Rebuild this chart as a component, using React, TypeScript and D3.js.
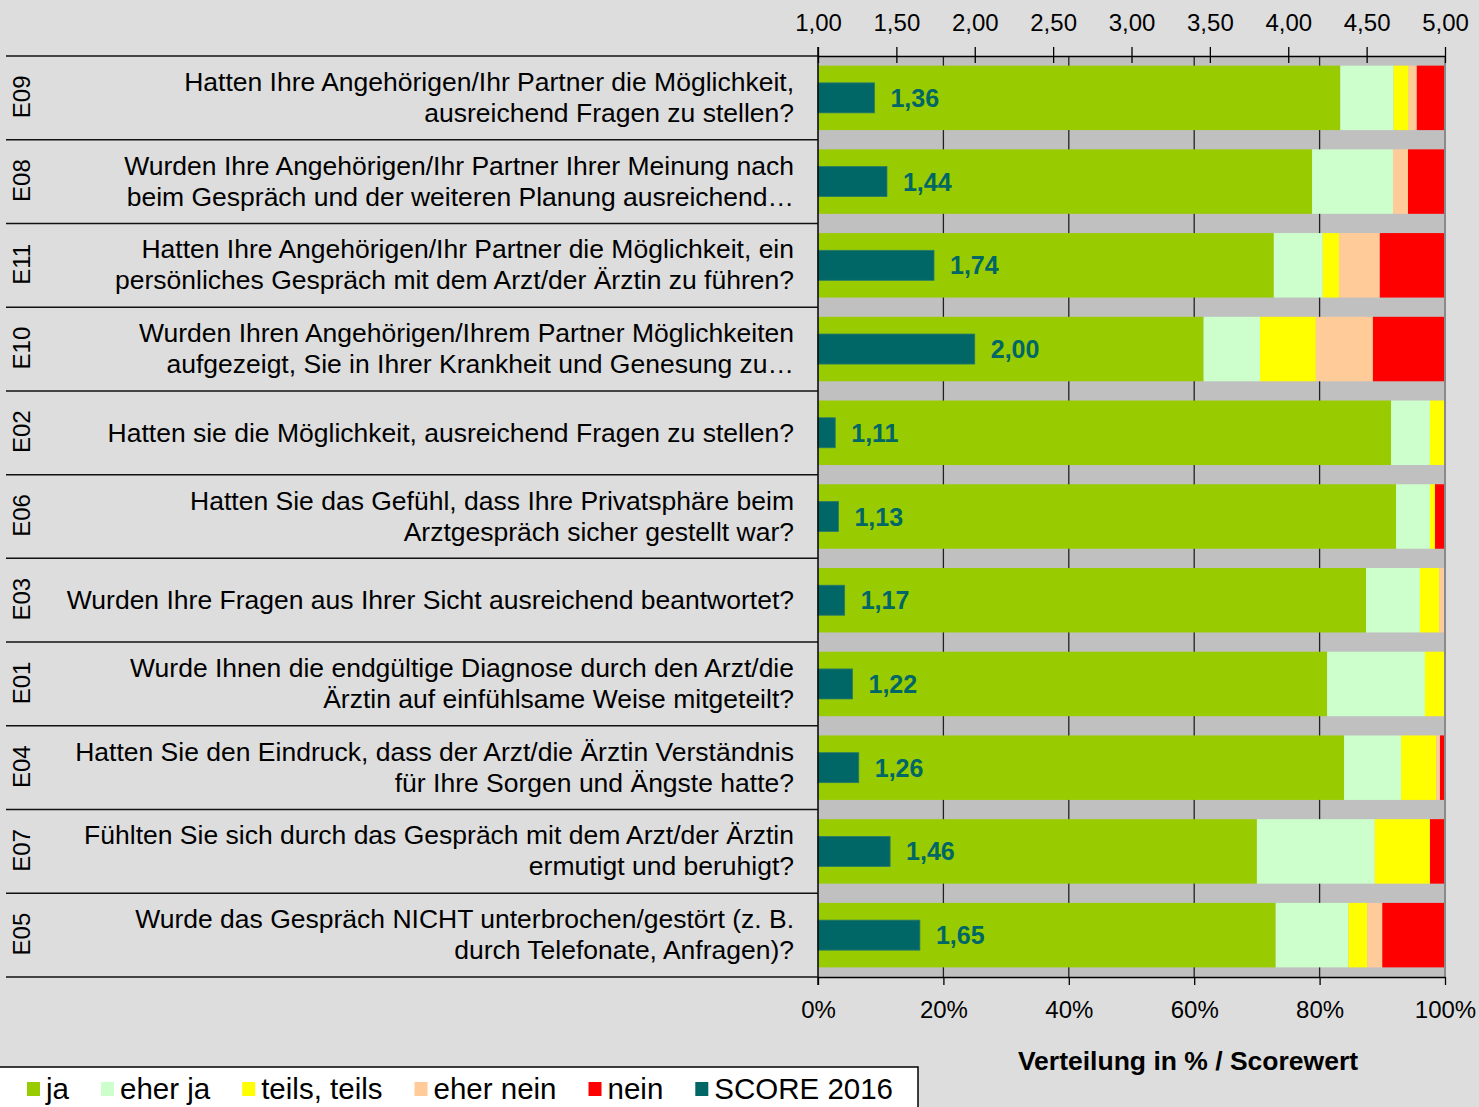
import { useEffect, useRef } from "react";
import * as d3 from "d3";

const codes = ["E09", "E08", "E11", "E10", "E02", "E06", "E03", "E01", "E04", "E07", "E05"];

const questions = [
  ["Hatten Ihre Angehörigen/Ihr Partner die Möglichkeit,", "ausreichend Fragen zu stellen?"],
  ["Wurden Ihre Angehörigen/Ihr Partner Ihrer Meinung nach", "beim Gespräch und der weiteren Planung ausreichend…"],
  ["Hatten Ihre Angehörigen/Ihr Partner die Möglichkeit, ein", "persönliches Gespräch mit dem Arzt/der Ärztin zu führen?"],
  ["Wurden Ihren Angehörigen/Ihrem Partner Möglichkeiten", "aufgezeigt, Sie in Ihrer Krankheit und Genesung zu…"],
  ["Hatten sie die Möglichkeit, ausreichend Fragen zu stellen?"],
  ["Hatten Sie das Gefühl, dass Ihre Privatsphäre beim", "Arztgespräch sicher gestellt war?"],
  ["Wurden Ihre Fragen aus Ihrer Sicht ausreichend beantwortet?"],
  ["Wurde Ihnen die endgültige Diagnose durch den Arzt/die", "Ärztin auf einfühlsame Weise mitgeteilt?"],
  ["Hatten Sie den Eindruck, dass der Arzt/die Ärztin Verständnis", "für Ihre Sorgen und Ängste hatte?"],
  ["Fühlten Sie sich durch das Gespräch mit dem Arzt/der Ärztin", "ermutigt und beruhigt?"],
  ["Wurde das Gespräch NICHT unterbrochen/gestört (z. B.", "durch Telefonate, Anfragen)?"],
];

// answer shares in %
const ja = [83.3, 78.8, 72.7, 61.5, 91.4, 92.2, 87.4, 81.2, 83.9, 70.0, 73.0];
const eherJa = [8.5, 12.9, 7.8, 9.0, 6.2, 5.4, 8.6, 15.6, 9.1, 18.8, 11.6];
const teils = [2.4, 0, 2.6, 8.9, 2.4, 0.8, 3.1, 3.2, 5.6, 8.8, 3.0];
const eherNein = [1.3, 2.4, 6.5, 9.1, 0, 0, 0.9, 0, 0.6, 0, 2.4];
const nein = [4.5, 5.9, 10.4, 11.5, 0, 1.6, 0, 0, 0.8, 2.4, 10.0];

const scores = [1.36, 1.44, 1.74, 2.0, 1.11, 1.13, 1.17, 1.22, 1.26, 1.46, 1.65];

const seriesNames = ["ja", "eher ja", "teils, teils", "eher nein", "nein"];
const seriesColors = ["#99CC00", "#CCFFCC", "#FFFF00", "#FFCC99", "#FF0000"];
const scoreName = "SCORE 2016";
const scoreColor = "#006666";

const scoreTicks = [1, 1.5, 2, 2.5, 3, 3.5, 4, 4.5, 5];
const pctTicks = [0, 20, 40, 60, 80, 100];

const FONT = "'Liberation Sans', Arial, sans-serif";

export default function App() {
  const svgRef = useRef(null);

  useEffect(() => {
    const width = 1479;
    const height = 1107;
    const left = 818;
    const right = 1445;
    const top = 56;
    const bottom = 977;

    const svg = d3.select(svgRef.current);
    svg.selectAll("*").remove();
    svg.attr("width", width).attr("height", height);

    svg.append("rect").attr("width", width).attr("height", height).attr("fill", "#DDDDDD");

    const xPct = d3.scaleLinear().domain([0, 100]).range([left, right]);
    const xScore = d3.scaleLinear().domain([1, 5]).range([left, right]);
    const y = d3.scaleBand<string>()
      .domain(codes)
      .range([top, bottom])
      .paddingInner(0.23)
      .paddingOuter(0.115);
    const step = y.step();

    // plot background
    svg.append("rect")
      .attr("x", left).attr("y", top)
      .attr("width", right - left).attr("height", bottom - top)
      .attr("fill", "#C0C0C0");

    // gridlines
    svg.append("g")
      .selectAll("line")
      .data(pctTicks.slice(1, -1))
      .join("line")
      .attr("x1", d => xPct(d)).attr("x2", d => xPct(d))
      .attr("y1", top).attr("y2", bottom)
      .attr("stroke", "#222").attr("stroke-width", 1.3);

    // stacked bars
    const table = codes.map((c, i) => ({
      code: c,
      v: [ja[i], eherJa[i], teils[i], eherNein[i], nein[i]],
    }));
    const rows = svg.append("g")
      .selectAll("g")
      .data(table)
      .join("g");
    rows.each(function (d) {
      let acc = 0;
      const segs = d.v.map((v, k) => {
        const s = { x0: acc, x1: acc + v, k };
        acc += v;
        return s;
      });
      d3.select(this)
        .selectAll("rect")
        .data(segs.filter(s => s.x1 > s.x0))
        .join("rect")
        .attr("x", s => xPct(s.x0))
        .attr("width", s => xPct(s.x1) - xPct(s.x0))
        .attr("y", y(d.code)!)
        .attr("height", y.bandwidth())
        .attr("fill", s => seriesColors[s.k]);
    });

    // score bars
    const scoreH = 30;
    svg.append("g")
      .selectAll("rect")
      .data(codes)
      .join("rect")
      .attr("x", xScore(1))
      .attr("width", (d, i) => xScore(scores[i]) - xScore(1))
      .attr("y", d => y(d)! + y.bandwidth() / 2 - scoreH / 2)
      .attr("height", scoreH)
      .attr("fill", scoreColor)
      .attr("stroke", "#2a7a6a").attr("stroke-width", 0.8);

    svg.append("g")
      .selectAll("text")
      .data(codes)
      .join("text")
      .attr("x", (d, i) => xScore(scores[i]) + 16)
      .attr("y", d => y(d)! + y.bandwidth() / 2 + 9)
      .attr("font-family", FONT)
      .attr("font-size", 25)
      .attr("font-weight", "bold")
      .attr("fill", scoreColor)
      .text((d, i) => scores[i].toFixed(2).replace(".", ","));

    // right border
    svg.append("line")
      .attr("x1", right).attr("x2", right)
      .attr("y1", top).attr("y2", bottom)
      .attr("stroke", "#8a8a8a").attr("stroke-width", 2);

    // top axis (score)
    const topAxis = svg.append("g")
      .attr("transform", `translate(0,${top})`)
      .call(
        d3.axisTop(xScore)
          .tickValues(scoreTicks)
          .tickSize(8)
          .tickSizeOuter(0)
          .tickPadding(17)
          .tickFormat(d => (+d).toFixed(2).replace(".", ","))
      );
    topAxis.select(".domain").attr("stroke", "#000").attr("stroke-width", 1.5);
    topAxis.selectAll(".tick line").attr("stroke", "#000").attr("stroke-width", 1.3).attr("y2", -9).attr("y1", 7);
    topAxis.selectAll("text").attr("font-family", FONT).attr("font-size", 24).attr("fill", "#000");

    // bottom axis (percent)
    const botAxis = svg.append("g")
      .attr("transform", `translate(0,${bottom})`)
      .call(
        d3.axisBottom(xPct)
          .tickValues(pctTicks)
          .tickSize(8)
          .tickSizeOuter(0)
          .tickPadding(16)
          .tickFormat(d => `${d}%`)
      );
    botAxis.select(".domain").attr("stroke", "#000").attr("stroke-width", 1.5);
    botAxis.selectAll(".tick line").attr("stroke", "#000").attr("stroke-width", 1.3);
    botAxis.selectAll("text").attr("font-family", FONT).attr("font-size", 24).attr("fill", "#000");

    // left axis line
    svg.append("line")
      .attr("x1", left).attr("x2", left)
      .attr("y1", top - 9).attr("y2", bottom + 8)
      .attr("stroke", "#000").attr("stroke-width", 1.5);

    // row separators on the left
    svg.append("g")
      .selectAll("line")
      .data(d3.range(codes.length + 1))
      .join("line")
      .attr("x1", 6).attr("x2", left)
      .attr("y1", i => top + i * step).attr("y2", i => top + i * step)
      .attr("stroke", "#111").attr("stroke-width", 1.5);

    // row codes
    svg.append("g")
      .selectAll("text")
      .data(codes)
      .join("text")
      .attr("transform", d => `translate(30,${y(d)! + y.bandwidth() / 2 - 1}) rotate(-90)`)
      .attr("text-anchor", "middle")
      .attr("font-family", FONT)
      .attr("font-size", 24)
      .attr("fill", "#000")
      .text(d => d);

    // question labels
    const qg = svg.append("g")
      .attr("font-family", FONT)
      .attr("font-size", 26.5)
      .attr("fill", "#000")
      .attr("text-anchor", "end");
    codes.forEach((c, i) => {
      const cy = y(c)! + y.bandwidth() / 2;
      const lines = questions[i];
      lines.forEach((ln, j) => {
        const yy = lines.length === 1 ? cy + 9 : cy - 7 + j * 31;
        qg.append("text").attr("x", 794).attr("y", yy).text(ln);
      });
    });

    // axis title
    svg.append("text")
      .attr("x", 1188).attr("y", 1070)
      .attr("text-anchor", "middle")
      .attr("font-family", FONT)
      .attr("font-size", 26.5)
      .attr("font-weight", "bold")
      .attr("fill", "#000")
      .text("Verteilung in % / Scorewert");

    // legend
    svg.append("rect")
      .attr("x", -2).attr("y", 1067)
      .attr("width", 920).attr("height", 60)
      .attr("fill", "#fff").attr("stroke", "#000").attr("stroke-width", 1.5);
    const legendItems = seriesNames.map((n, k) => ({ name: n, color: seriesColors[k] }))
      .concat([{ name: scoreName, color: scoreColor }]);
    let lx = 27;
    legendItems.forEach(it => {
      svg.append("rect")
        .attr("x", lx).attr("y", 1082)
        .attr("width", 13).attr("height", 14)
        .attr("fill", it.color);
      const t = svg.append("text")
        .attr("x", lx + 19).attr("y", 1099)
        .attr("font-family", FONT)
        .attr("font-size", 29.5)
        .attr("fill", "#000")
        .text(it.name);
      const w = (t.node() as SVGTextElement).getComputedTextLength();
      lx = lx + 19 + w + 32;
    });
  }, []);

  return (
    <div style={{ position: "absolute", left: 0, top: 0 }}>
      <svg ref={svgRef} style={{ display: "block" }}></svg>
    </div>
  );
}
